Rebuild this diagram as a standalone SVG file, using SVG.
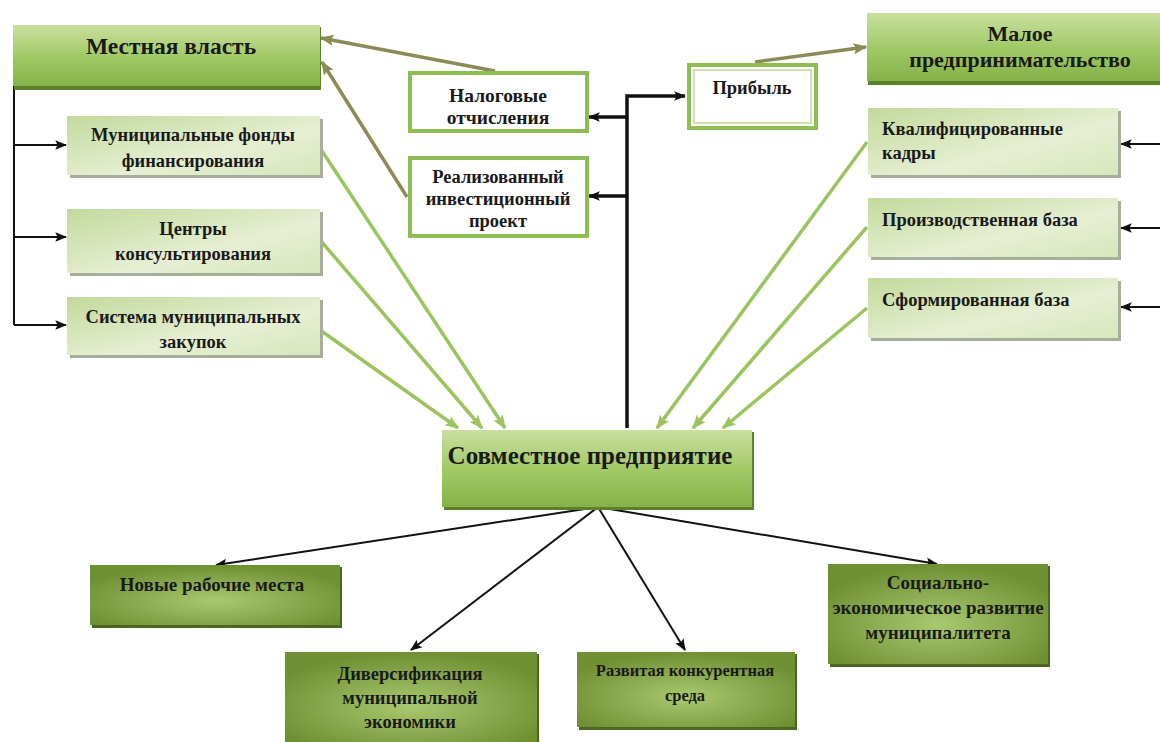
<svg xmlns="http://www.w3.org/2000/svg" width="1160" height="742" viewBox="0 0 1160 742">
<defs>
<linearGradient id="gTop" x1="0" y1="0" x2="0" y2="1">
<stop offset="0" stop-color="#c9e0a0"/>
<stop offset="0.55" stop-color="#9ec862"/>
<stop offset="1" stop-color="#86b24a"/>
</linearGradient>
<linearGradient id="gLight" x1="0" y1="0" x2="1" y2="1">
<stop offset="0" stop-color="#c3d99c"/>
<stop offset="0.6" stop-color="#e6efd3"/>
<stop offset="1" stop-color="#d8e6bd"/>
</linearGradient>
<radialGradient id="gDark" cx="0.5" cy="0.6" r="0.6">
<stop offset="0" stop-color="#a9c96f"/>
<stop offset="1" stop-color="#6f8f33"/>
</radialGradient>
<marker id="aBlackS" viewBox="0 0 10 10" refX="9" refY="5" markerWidth="12" markerHeight="12" orient="auto" markerUnits="userSpaceOnUse">
<path d="M0,1 L10,5 L0,9 L2,5 Z" fill="#111"/>
</marker>
<marker id="aBrown" viewBox="0 0 10 10" refX="9" refY="5" markerWidth="14" markerHeight="14" orient="auto" markerUnits="userSpaceOnUse">
<path d="M0,1 L10,5 L0,9 L2,5 Z" fill="#8c8a55"/>
</marker>
<marker id="aGreen" viewBox="0 0 10 10" refX="9" refY="5" markerWidth="14" markerHeight="14" orient="auto" markerUnits="userSpaceOnUse">
<path d="M0,1 L10,5 L0,9 L2,5 Z" fill="#9cc45e"/>
</marker>
</defs>
<style>
text{font-weight:bold;fill:#1a1a1a;}
.t15{font-size:18.5px;}
.c{text-anchor:middle;}
.top{fill:url(#gTop);}
.topEdge{fill:#5e7f2c;}
.light{fill:url(#gLight);}
.shadow{fill:#a6ad9a;}
.dark{fill:url(#gDark);}
.darkEdge{fill:#4e6522;}
.white{fill:#ffffff;stroke:#8fbd55;stroke-width:4;}
.blk{stroke:#111;stroke-width:2;fill:none;}
.blkT{stroke:#111;stroke-width:3.5;fill:none;}
.brn{stroke:#8c8a55;stroke-width:3.5;fill:none;}
.grn{stroke:#9cc45e;stroke-width:3.5;fill:none;}
</style>

<g id="connectors">
<path class="blk" d="M14,57 V325"/>
<path class="blk" d="M14,145 H66" marker-end="url(#aBlackS)"/>
<path class="blk" d="M14,237 H66" marker-end="url(#aBlackS)"/>
<path class="blk" d="M14,325 H66" marker-end="url(#aBlackS)"/>
<path class="blk" d="M1160,144 H1121" marker-end="url(#aBlackS)"/>
<path class="blk" d="M1160,228 H1121" marker-end="url(#aBlackS)"/>
<path class="blk" d="M1160,307 H1121" marker-end="url(#aBlackS)"/>
<path class="blkT" d="M627,428 V96 H685" marker-end="url(#aBlackS)"/>
<path class="blkT" d="M627,117 H589" marker-end="url(#aBlackS)"/>
<path class="blkT" d="M627,196 H589" marker-end="url(#aBlackS)"/>
<path class="brn" d="M495,71 L321,38" marker-end="url(#aBrown)"/>
<path class="brn" d="M407,197 L322,62" marker-end="url(#aBrown)"/>
<path class="brn" d="M755,62 L866,47" marker-end="url(#aBrown)"/>
<path class="grn" d="M320,148 L505,428" marker-end="url(#aGreen)"/>
<path class="grn" d="M320,240 L482,428" marker-end="url(#aGreen)"/>
<path class="grn" d="M320,330 L458,428" marker-end="url(#aGreen)"/>
<path class="grn" d="M867,142 L657,428" marker-end="url(#aGreen)"/>
<path class="grn" d="M867,227 L693,428" marker-end="url(#aGreen)"/>
<path class="grn" d="M867,308 L723,428" marker-end="url(#aGreen)"/>
<path class="blk" d="M598,507 L216,565" marker-end="url(#aBlackS)"/>
<path class="blk" d="M598,507 L411,650" marker-end="url(#aBlackS)"/>
<path class="blk" d="M598,507 L685,650" marker-end="url(#aBlackS)"/>
<path class="blk" d="M598,507 L937,564" marker-end="url(#aBlackS)"/>
</g>

<g font-family="'Liberation Serif', 'Times New Roman', 'DejaVu Serif', serif">
<g id="mestnaya-vlast">
<rect class="topEdge" x="14" y="27" width="307" height="63"/>
<rect class="top" x="13" y="25" width="307" height="61"/>
<text x="171" y="54" class="c" font-size="23.5">Местная власть</text>
</g>

<g id="fondy">
<rect class="shadow" x="70" y="119" width="253" height="59"/>
<rect class="light" x="67" y="116" width="253" height="59"/>
<text class="t15 c" x="193" y="141">Муниципальные фонды</text>
<text class="t15 c" x="193" y="167">финансирования</text>
</g>

<g id="centry">
<rect class="shadow" x="70" y="212" width="253" height="64"/>
<rect class="light" x="67" y="209" width="253" height="64"/>
<text class="t15 c" x="193" y="235">Центры</text>
<text class="t15 c" x="193" y="260">консультирования</text>
</g>

<g id="sistema">
<rect class="shadow" x="70" y="300" width="253" height="58"/>
<rect class="light" x="67" y="297" width="253" height="58"/>
<text class="t15 c" x="193" y="323">Система муниципальных</text>
<text class="t15 c" x="193" y="348">закупок</text>
</g>

<g id="nalogovye">
<rect class="white" x="410" y="73" width="177" height="58"/>
<text class="c" font-size="19.5" x="498" y="102">Налоговые</text>
<text class="c" font-size="19.5" x="498" y="124">отчисления</text>
</g>

<g id="realizovanny">
<rect class="white" x="410" y="158" width="177" height="78"/>
<text class="t15 c" x="498" y="183">Реализованный</text>
<text class="t15 c" x="498" y="205">инвестиционный</text>
<text class="t15 c" x="498" y="227">проект</text>
</g>

<g id="pribyl">
<rect class="white" x="689" y="65" width="127" height="63"/>
<rect x="694" y="70" width="117" height="53" fill="none" stroke="#a9cf7a" stroke-width="1.2"/>
<text class="t15 c" x="752" y="94">Прибыль</text>
</g>

<g id="maloe">
<rect class="topEdge" x="868" y="15" width="295" height="70"/>
<rect class="top" x="867" y="13" width="296" height="68"/>
<text x="1020" y="41" class="c" font-size="22">Малое</text>
<text x="1020" y="67" class="c" font-size="22">предпринимательство</text>
</g>

<g id="kadry">
<rect class="shadow" x="871" y="111" width="250" height="67"/>
<rect class="light" x="868" y="108" width="250" height="67"/>
<text class="t15" x="882" y="135">Квалифицированные</text>
<text class="t15" x="882" y="159">кадры</text>
</g>

<g id="proizv-baza">
<rect class="shadow" x="871" y="201" width="250" height="59"/>
<rect class="light" x="868" y="198" width="250" height="59"/>
<text class="t15" x="882" y="226">Производственная база</text>
</g>

<g id="sform-baza">
<rect class="shadow" x="871" y="281" width="250" height="60"/>
<rect class="light" x="868" y="278" width="250" height="60"/>
<text class="t15" x="882" y="306">Сформированная база</text>
</g>

<g id="sovmestnoe">
<rect class="topEdge" x="444" y="432" width="310" height="78"/>
<rect class="top" x="442" y="430" width="310" height="77"/>
<text x="590" y="464" class="c" font-size="25">Совместное предприятие</text>
</g>

<g id="novye-mesta">
<rect class="darkEdge" x="92" y="567" width="250" height="61"/>
<rect class="dark" x="90" y="565" width="250" height="60"/>
<text class="c" font-size="19" x="212" y="591">Новые рабочие места</text>
</g>

<g id="diversifikaciya">
<rect class="darkEdge" x="287" y="654" width="252" height="90"/>
<rect class="dark" x="285" y="652" width="252" height="90"/>
<text class="t15 c" x="410" y="680">Диверсификация</text>
<text class="t15 c" x="410" y="704">муниципальной</text>
<text class="t15 c" x="410" y="728">экономики</text>
</g>

<g id="konkurent">
<rect class="darkEdge" x="579" y="654" width="218" height="76"/>
<rect class="dark" x="577" y="652" width="218" height="75"/>
<text class="c" font-size="16.5" x="685" y="676">Развитая конкурентная</text>
<text class="c" font-size="16.5" x="685" y="701">среда</text>
</g>

<g id="socialno">
<rect class="darkEdge" x="830" y="566" width="220" height="101"/>
<rect class="dark" x="828" y="564" width="220" height="100"/>
<text class="c" font-size="19" x="938" y="589">Социально-</text>
<text class="c" font-size="19" x="938" y="614">экономическое развитие</text>
<text class="c" font-size="19" x="938" y="639">муниципалитета</text>
</g>
</g>
</svg>
